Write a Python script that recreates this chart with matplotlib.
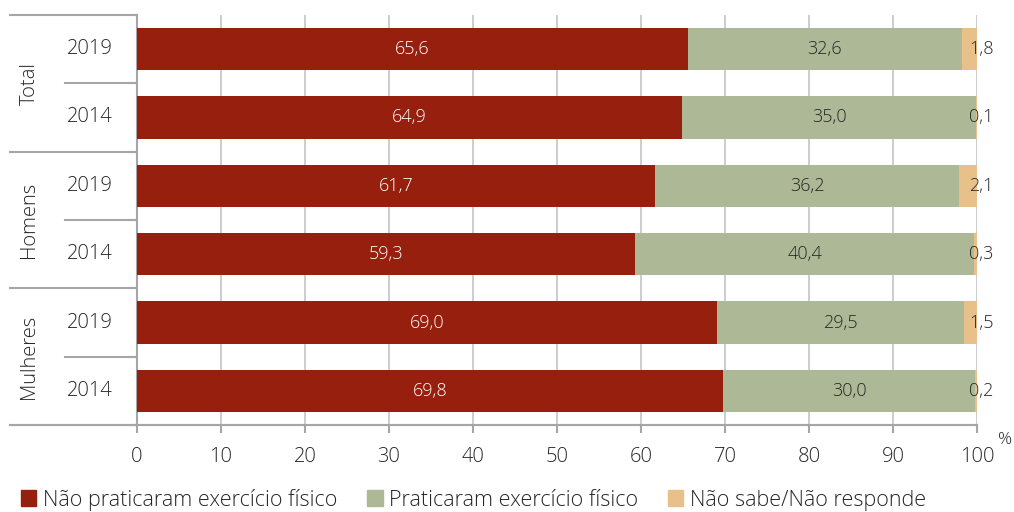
import numpy as np
import matplotlib.pyplot as plt
from matplotlib.patches import Patch
import matplotlib.transforms as mtransforms

plt.rcParams['font.family'] = ['Open Sans', 'DejaVu Sans']
plt.rcParams['font.weight'] = 'light'

# data
groups = ['Total', 'Homens', 'Mulheres']
years = ['2019', '2014', '2019', '2014', '2019', '2014']
nao_praticaram = [65.6, 64.9, 61.7, 59.3, 69.0, 69.8]
praticaram = [32.6, 35.0, 36.2, 40.4, 29.5, 30.0]
nao_sabe = [1.8, 0.1, 2.1, 0.3, 1.5, 0.2]

series_names = ['Não praticaram exercício físico', 'Praticaram exercício físico',
                'Não sabe/Não responde']
colors = ['#96200D', '#ADB896', '#E8C18A']
grey = '#A6A6A6'
txt = '#262626'

fig = plt.figure(figsize=(10.14, 5.12), dpi=100)
ax = fig.add_axes([137/1014, 1 - 425/512, 840/1014, 410/512])

y = np.arange(len(years)) + 0.5
a = np.array(nao_praticaram)
b = np.array(praticaram)
c = np.array(nao_sabe)

ax.barh(y, a, height=0.62, color=colors[0], zorder=3)
ax.barh(y, b, left=a, height=0.62, color=colors[1], zorder=3)
ax.barh(y, c, left=a + b, height=0.62, color=colors[2], zorder=3)

def fmt(v):
    return f'{v:.1f}'.replace('.', ',')

for i in range(len(years)):
    ax.text(a[i] / 2, y[i], fmt(a[i]), ha='center', va='center', color='white',
            fontsize=13, zorder=4)
    ax.text(a[i] + b[i] / 2, y[i], fmt(b[i]), ha='center', va='center', color=txt,
            fontsize=13, zorder=4)
    ax.text(100.5, y[i], fmt(c[i]), ha='center', va='center', color=txt,
            fontsize=13, zorder=4)

ax.set_xlim(0, 100)
ax.set_ylim(6, 0)
ax.set_xticks(range(0, 101, 10))
ax.tick_params(axis='x', labelsize=14.5, length=6, color=grey, width=1.5,
               labelcolor=txt, pad=10)
ax.set_yticks(range(0, 7))
ax.set_yticklabels([])
ax.tick_params(axis='y', length=4, color=grey, width=1.5)
ax.grid(axis='x', color='#C8C8C8', linewidth=1.3, zorder=0)

for s in ['top', 'right']:
    ax.spines[s].set_visible(False)
for s in ['left', 'bottom']:
    ax.spines[s].set_color(grey)
    ax.spines[s].set_linewidth(1.5)

# category area on the left
trans = mtransforms.blended_transform_factory(ax.transAxes, ax.transData)
for k in range(7):
    x0 = -0.151 if k % 2 == 0 else -0.0857
    ax.plot([x0, 0], [k, k], color=grey, lw=1.5, transform=trans, clip_on=False)
ax.plot([-0.151, 1.0], [6, 6], color=grey, lw=1.5, transform=trans, clip_on=False)

for i, yr in enumerate(years):
    ax.text(-0.056, y[i], yr, transform=trans, ha='center', va='center',
            fontsize=14.5, color=txt)
for g, name in enumerate(groups):
    ax.text(-0.128, 2 * g + 1, name, transform=trans, ha='center', va='center',
            rotation=90, fontsize=14.5, color=txt)

fig.text(1005/1014, 1 - 440/512, '%', ha='center', va='center', fontsize=12.5,
         color=txt)

handles = [Patch(color=col) for col in colors]
fig.legend(handles, series_names, loc='lower left', bbox_to_anchor=(0.002, -0.035),
           ncol=3, frameon=False, fontsize=15.5, handlelength=0.7, handleheight=0.7,
           handletextpad=0.3, columnspacing=1.4, labelcolor=txt)

fig.savefig('out.png', dpi=100)
